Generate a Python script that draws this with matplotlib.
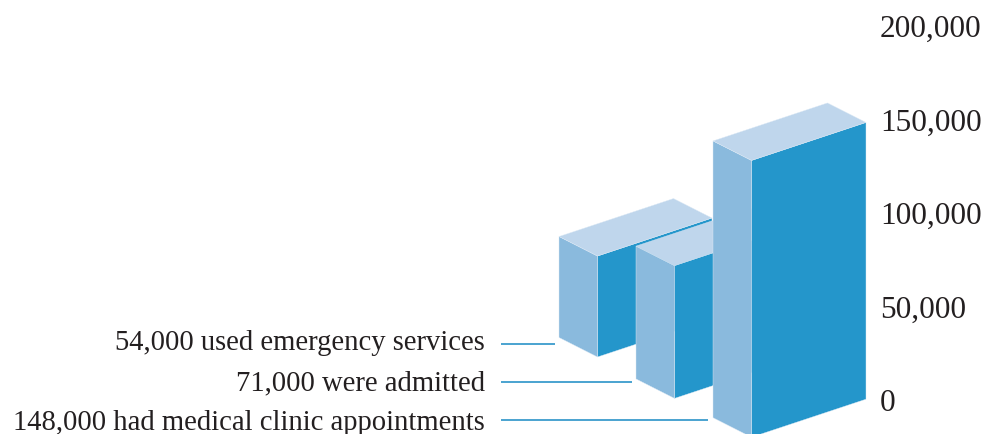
import matplotlib.pyplot as plt
from matplotlib.patches import Polygon

plt.rcParams['font.family'] = ['Liberation Serif', 'DejaVu Serif']

# Patients per service
services = ['used emergency services', 'were admitted', 'had medical clinic appointments']
patients = [54000, 71000, 148000]
axis_ticks = [0, 50000, 100000, 150000, 200000]

W, H = 993, 434
PX_PER_UNIT = 0.00187  # pixels of height per patient
ZERO_PX = 400.5        # pixel row of the zero tick

TOP_COLOR = '#BFD6EC'
LEFT_COLOR = '#8ABADD'
RIGHT_COLOR = '#2496CB'
LINE_COLOR = '#2B93C8'
TEXT_COLOR = '#231F20'

# Block placement: left edge and the pixel row of the front bottom corner
block_left = [559, 636, 713]
block_base = [357.0, 398.4, 437.2]
leader_y = [343.5, 381.5, 419.5]
leader_end = [555, 632, 708]
label_y = [343.5, 383, 422.5]

# Oblique projection offsets, in pixels
LEFT_DX, LEFT_DY = 38.5, 19.5
RIGHT_DX, RIGHT_DY = 114.5, 38


def row(px):
    """Pixel row to a value on the vertical scale."""
    return (ZERO_PX - px) / PX_PER_UNIT


def draw_block(ax, left, base_px, value):
    front = left + LEFT_DX
    right = front + RIGHT_DX
    bottom = row(base_px)
    top = bottom + value
    dl = LEFT_DY / PX_PER_UNIT
    dr = RIGHT_DY / PX_PER_UNIT

    left_face = [(left, bottom + dl), (front, bottom), (front, top), (left, top + dl)]
    right_face = [(front, bottom), (right, bottom + dr), (right, top + dr), (front, top)]
    top_face = [(left, top + dl), (front, top), (right, top + dr),
                (right - LEFT_DX, top + dr + dl)]

    for pts, color in [(right_face, RIGHT_COLOR), (left_face, LEFT_COLOR), (top_face, TOP_COLOR)]:
        ax.add_patch(Polygon(pts, closed=True, facecolor=color, edgecolor='#DCE9F5', linewidth=0.3))


fig = plt.figure(figsize=(W / 100, H / 100), dpi=100)
ax = fig.add_axes([0, 0, 1, 1])
ax.set_xlim(0, W)
ax.set_ylim(row(H), row(0))
ax.axis('off')

for left, base, value in zip(block_left, block_base, patients):
    draw_block(ax, left, base, value)

# Labels with leader lines
for name, value, y, end, text_y in zip(services, patients, leader_y, leader_end, label_y):
    ax.plot([501, end], [row(y), row(y)], color=LINE_COLOR, linewidth=1.2, solid_capstyle='butt')
    ax.text(485, row(text_y), f'{value:,} {name}', ha='right', va='center',
            fontsize=20.6, color=TEXT_COLOR)

# Value scale down the right side
for t in axis_ticks:
    ax.text(880, t - 3 / PX_PER_UNIT, f'{t:,}', ha='left', va='center',
            fontsize=22.5, color=TEXT_COLOR)

fig.savefig('out.png', dpi=100)
